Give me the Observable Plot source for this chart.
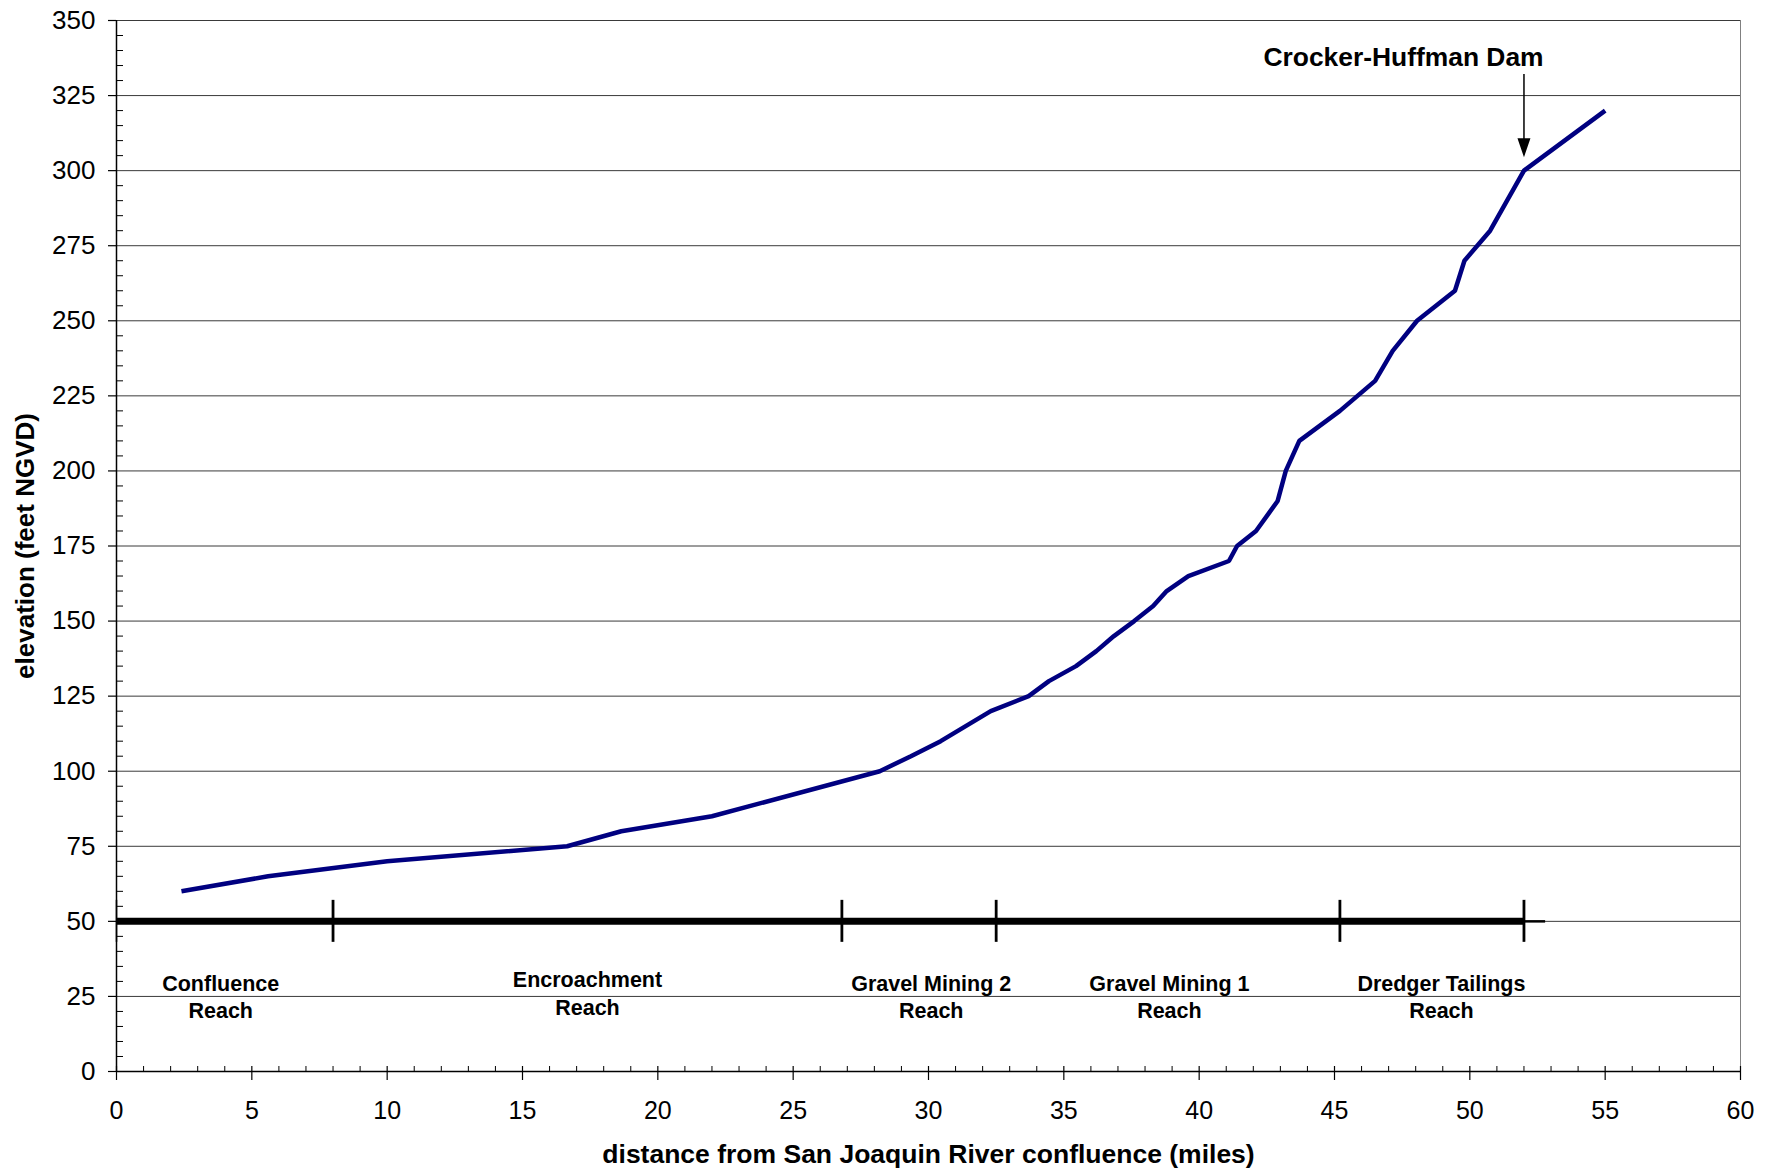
<!DOCTYPE html>
<html>
<head>
<meta charset="utf-8">
<script src="https://cdn.jsdelivr.net/npm/d3@7"></script>
<script src="https://cdn.jsdelivr.net/npm/@observablehq/plot@0.6"></script>
<style>
  html, body { margin: 0; padding: 0; background: #fff; }
  #chart svg { display: block; }
</style>
</head>
<body>
<div id="chart"></div>
<script>
// River profile: distance from San Joaquin River confluence (miles) vs elevation (feet NGVD)
const miles = [2.4, 5.6, 10.0, 16.65, 18.65, 22.0, 28.2, 29.35, 30.45, 32.3, 33.7, 34.45, 35.45, 36.2, 36.85, 37.6, 38.3, 38.8, 39.6, 41.1, 41.4, 42.1, 42.9, 43.2, 43.7, 45.2, 46.5, 47.15, 48.05, 49.45, 49.8, 50.75, 52.0, 55.0];
const elevation = [60, 65, 70, 75, 80, 85, 100, 105, 110, 120, 125, 130, 135, 140, 145, 150, 155, 160, 165, 170, 175, 180, 190, 200, 210, 220, 230, 240, 250, 260, 270, 280, 300, 320];

// Reach boundaries (miles) and labels
const reachBounds = [0, 8.0, 26.8, 32.5, 45.2, 52.0];
const reachLabels = ["Confluence\nReach", "Encroachment\nReach", "Gravel Mining 2\nReach", "Gravel Mining 1\nReach", "Dredger Tailings\nReach"];
const reachLabelX = [3.85, 17.4, 30.1, 38.9, 48.95];
const reachLabelY = [25.3, 26.4, 25.3, 25.3, 25.3];
const reachBarY = 50;
const reachBarEnd = [52.0, 52.8];

// Dam annotation
const damLabel = "Crocker-Huffman Dam";
const damMile = 52.0;
const damArrowTop = 332;
const damArrowTip = 304.5;

// Axis ticks
const xTicks = [0, 5, 10, 15, 20, 25, 30, 35, 40, 45, 50, 55, 60];
const xMinor = d3.range(0, 61).filter(d => d % 5 !== 0);
const yTicks = [0, 25, 50, 75, 100, 125, 150, 175, 200, 225, 250, 275, 300, 325, 350];
const yMinor = d3.range(0, 351, 5).filter(d => d % 25 !== 0);

const data = miles.map((m, i) => ({mile: m, elev: elevation[i]}));
const reaches = reachLabels.map((t, i) => ({text: t, x: reachLabelX[i], y: reachLabelY[i]}));

const downTriangle = {
  draw(context) {
    context.moveTo(-6.5, -19);
    context.lineTo(6.5, -19);
    context.lineTo(0, 0);
    context.closePath();
  }
};

const font = "Arial, 'Liberation Sans', Helvetica, sans-serif";

const chart = Plot.plot({
  width: 1775,
  height: 1173,
  marginLeft: 116,
  marginRight: 35,
  marginTop: 20,
  marginBottom: 102,
  style: {fontFamily: font, background: "#fff", color: "#000", overflow: "visible"},
  x: {domain: [0, 60], axis: null},
  y: {domain: [0, 350], axis: null},
  marks: [
    // gridlines
    Plot.ruleY(yTicks.filter(d => d > 0), {x1: 0, x2: 60, stroke: "#3a3a3a", strokeWidth: 1}),
    // right border
    Plot.ruleX([60], {y1: 0, y2: 350, stroke: "#808080", strokeWidth: 1}),
    // axes lines
    Plot.ruleY([0], {x1: 0, x2: 60, stroke: "#000", strokeWidth: 1.5}),
    Plot.ruleX([0], {y1: 0, y2: 350, stroke: "#000", strokeWidth: 1.5}),
    // y major ticks (outside)
    Plot.ruleY(yTicks, {x1: 0, x2: 0, insetLeft: -8, stroke: "#000", strokeWidth: 1.2}),
    // y minor ticks (inside)
    Plot.ruleY(yMinor, {x1: 0, x2: 0, insetRight: -7, stroke: "#000", strokeWidth: 1}),
    // x major ticks (cross)
    Plot.ruleX(xTicks, {y1: 0, y2: 0, insetTop: -5, insetBottom: -9, stroke: "#000", strokeWidth: 1.2}),
    // x minor ticks (inside)
    Plot.ruleX(xMinor, {y1: 0, y2: 0, insetTop: -5, stroke: "#000", strokeWidth: 1}),
    // tick labels
    Plot.text(yTicks, {x: 0, y: d => d, text: d => String(d), textAnchor: "end", dx: -21, fontSize: 26, fill: "#000"}),
    Plot.text(xTicks, {x: d => d, y: 0, text: d => String(d), lineAnchor: "middle", dy: 39, fontSize: 25, fill: "#000"}),
    // reach bar
    Plot.ruleY([reachBarY], {x1: reachBarEnd[0], x2: reachBarEnd[1], stroke: "#000", strokeWidth: 2.5}),
    Plot.ruleY([reachBarY], {x1: reachBounds[0], x2: reachBounds[reachBounds.length - 1], stroke: "#000", strokeWidth: 7}),
    Plot.ruleX(reachBounds.slice(1), {y1: reachBarY, y2: reachBarY, insetTop: -21, insetBottom: -21, stroke: "#000", strokeWidth: 2.8}),
    Plot.ruleX(reachBounds.slice(0, 1), {y1: reachBarY, y2: reachBarY, insetTop: -21, insetBottom: -21, stroke: "#000", strokeWidth: 1.5}),
    // reach labels
    Plot.text(reaches, {x: "x", y: "y", text: "text", lineAnchor: "middle", lineHeight: 1.3, fontSize: 21.5, fontWeight: "bold", fill: "#000"}),
    // profile line
    Plot.line(data, {x: "mile", y: "elev", stroke: "#000080", strokeWidth: 4.5, strokeLinejoin: "miter", strokeLinecap: "butt"}),
    // dam annotation
    Plot.ruleX([damMile], {y1: damArrowTop, y2: damArrowTip + 5, stroke: "#000", strokeWidth: 1.5}),
    Plot.dot([damMile], {x: d => d, y: damArrowTip, symbol: downTriangle, fill: "#000", stroke: null, r: 5}),
    Plot.text([damLabel], {x: 47.55, y: 334.9, text: d => d, lineAnchor: "bottom", fontSize: 26.4, fontWeight: "bold", fill: "#000"}),
    // axis titles
    Plot.text(["distance from San Joaquin River confluence (miles)"], {frameAnchor: "bottom", text: d => d, dy: 91, lineAnchor: "bottom", fontSize: 26.5, fontWeight: "bold", fill: "#000"}),
    Plot.text(["elevation (feet NGVD)"], {frameAnchor: "left", textAnchor: "middle", text: d => d, dx: -91, rotate: -90, fontSize: 26, fontWeight: "bold", fill: "#000"})
  ]
});

document.getElementById("chart").appendChild(chart);
</script>
</body>
</html>
